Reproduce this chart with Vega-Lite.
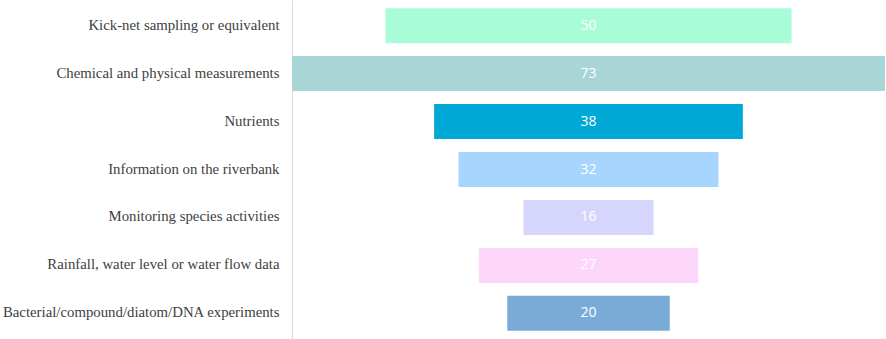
{
  "$schema": "https://vega.github.io/schema/vega-lite/v6.json",
  "autosize": "none",
  "padding": {"left": 292, "top": 0, "right": 1, "bottom": 0},
  "width": 593,
  "height": 339,
  "background": "white",
  "config": {"view": {"stroke": null}},
  "data": {
    "values": [
      {"category": "Kick-net sampling or equivalent", "count": 50, "color": "#a8fdd8"},
      {"category": "Chemical and physical measurements", "count": 73, "color": "#a8d5d6"},
      {"category": "Nutrients", "count": 38, "color": "#00a8d6"},
      {"category": "Information on the riverbank", "count": 32, "color": "#a8d5fd"},
      {"category": "Monitoring species activities", "count": 16, "color": "#d6d6fd"},
      {"category": "Rainfall, water level or water flow data", "count": 27, "color": "#fcd6fb"},
      {"category": "Bacterial/compound/diatom/DNA experiments", "count": 20, "color": "#7aabd7"}
    ]
  },
  "encoding": {
    "y": {
      "field": "category",
      "type": "nominal",
      "sort": null,
      "scale": {"paddingInner": 0.27, "paddingOuter": 0.17},
      "axis": {
        "title": null,
        "ticks": false,
        "domainColor": "#d9d9d9",
        "domainWidth": 1,
        "labelFont": "Liberation Serif",
        "labelFontSize": 14.8,
        "labelColor": "#404040",
        "labelPadding": 13,
        "labelLimit": 400
      }
    }
  },
  "layer": [
    {
      "mark": {"type": "bar"},
      "encoding": {
        "x": {
          "field": "count",
          "type": "quantitative",
          "stack": "center",
          "scale": {"domain": [0, 73], "nice": false},
          "axis": null
        },
        "color": {"field": "color", "type": "nominal", "scale": null, "legend": null}
      }
    },
    {
      "mark": {"type": "text", "color": "white", "font": "Open Sans", "fontSize": 14},
      "encoding": {
        "x": {"datum": 36.5, "type": "quantitative"},
        "text": {"field": "count", "type": "quantitative"}
      }
    }
  ]
}
